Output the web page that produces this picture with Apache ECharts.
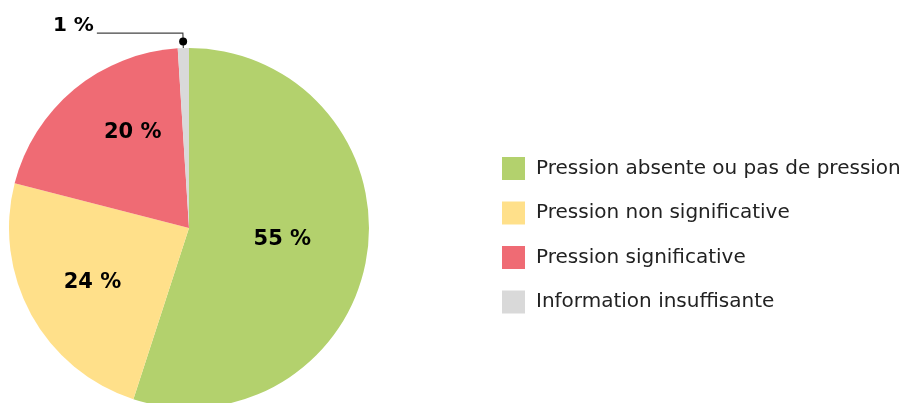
<!DOCTYPE html>
<html>
<head>
<meta charset="utf-8">
<script src="https://cdn.jsdelivr.net/npm/echarts@6/dist/echarts.min.js"></script>
<style>
html,body{margin:0;padding:0;background:#fff;}
#chart{width:907px;height:403px;}
</style>
</head>
<body>
<div id="chart"></div>
<script>
var categories = ['Pression absente ou pas de pression', 'Pression non significative', 'Pression significative', 'Information insuffisante'];
var values = [55, 24, 20, 1];
var colors = ['#b3d16d', '#ffe08a', '#ef6b74', '#d9d9d9'];
// label nudges (style only)
var labelNudge = [[1.5, -3.5], [-15, 10], [3, -24], null];

var chart = echarts.init(document.getElementById('chart'));
var data = categories.map(function (c, i) {
  var d = { name: c, value: values[i], itemStyle: { color: colors[i] } };
  if (i === 3) {
    d.label = {
      position: 'outside',
      distanceToLabelLine: 3,
      formatter: '{t|{c} %}\n{s|}',
      rich: {
        t: { fontFamily: 'DejaVu Sans', fontWeight: 'bold', fontSize: 20, color: '#000', height: 24 },
        s: { height: 14 }
      }
    };
    d.labelLine = { show: true, length: 15, length2: 86, lineStyle: { color: '#444', width: 1.2 } };
  }
  return d;
});

chart.setOption({
  animation: false,
  legend: {
    orient: 'vertical',
    left: 502,
    top: 157,
    padding: 0,
    itemWidth: 23,
    itemHeight: 23,
    itemGap: 21.5,
    icon: 'rect',
    selectedMode: false,
    textStyle: { fontFamily: 'DejaVu Sans', fontSize: 20, color: '#222', padding: [0, 0, 0, 6] },
    data: categories
  },
  series: [{
    type: 'pie',
    center: [189, 228],
    radius: 180,
    startAngle: 90,
    clockwise: true,
    avoidLabelOverlap: false,
    silent: true,
    label: {
      show: true,
      position: 'inside',
      formatter: '{c} %',
      fontFamily: 'DejaVu Sans',
      fontWeight: 'bold',
      fontSize: 21,
      color: '#000'
    },
    labelLine: { show: false },
    labelLayout: function (p) {
      var n = labelNudge[p.dataIndex];
      if (!n) return {};
      return { dx: n[0], dy: n[1] };
    },
    data: data
  }]
});

// marker dot at the leader line start, from the library's own slice layout
try {
  var lay = chart.getModel().getSeriesByIndex(0).getData().getItemLayout(3);
  var mid = (lay.startAngle + lay.endAngle) / 2;
  var rr = lay.r + 6.5;
  chart.getZr().add(new echarts.graphic.Circle({
    shape: { cx: lay.cx + rr * Math.cos(mid), cy: lay.cy + rr * Math.sin(mid), r: 4 },
    style: { fill: '#000' },
    z: 100
  }));
} catch (e) {}
</script>
</body>
</html>
